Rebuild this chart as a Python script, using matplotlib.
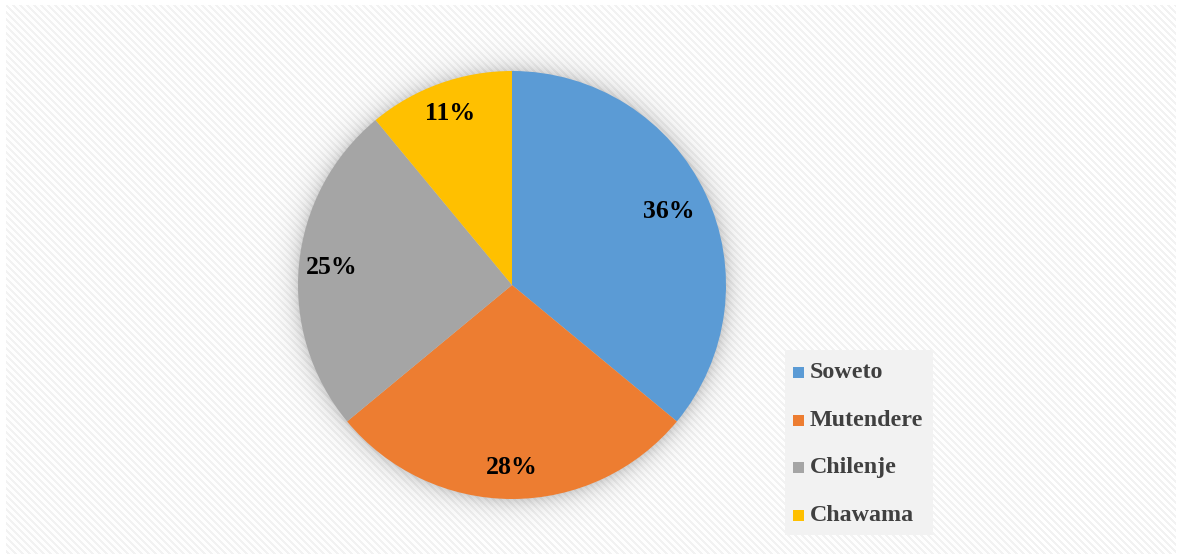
import numpy as np
import matplotlib
matplotlib.use("Agg")
import matplotlib.pyplot as plt
from matplotlib.patches import Rectangle

# Share of respondents by area
areas = ["Soweto", "Mutendere", "Chilenje", "Chawama"]
shares = [36, 28, 25, 11]
colors = ["#5b9bd5", "#ed7d31", "#a5a5a5", "#ffc000"]

W, H, DPI = 1181, 558, 100
fig = plt.figure(figsize=(W / DPI, H / DPI), dpi=DPI)
fig.patch.set_facecolor("white")

# Pie placement in pixels (centre and radius)
cx, cy, r = 512, 285, 214

# Diagonal-stripe chart background with a soft glow under the pie
yy, xx = np.mgrid[0:H, 0:W]
stripes = ((xx - yy) % 7) < 3
bg = np.where(stripes, 0.95, 1.0)
d = np.hypot(xx - cx, yy - cy)
glow = np.where(d > r, np.exp(-np.clip(d - r, 0, None) / 10.0), 1.0)
bg = bg * (1 - 0.17 * glow)
inside = (xx >= 6) & (xx <= W - 6) & (yy >= 5) & (yy <= H - 5)
bg = np.where(inside, bg, 1.0)
bg_ax = fig.add_axes([0, 0, 1, 1])
bg_ax.imshow(np.dstack([bg, bg, bg]), extent=(0, W, H, 0), interpolation="nearest")
bg_ax.set_xlim(0, W)
bg_ax.set_ylim(H, 0)
bg_ax.axis("off")

ax = fig.add_axes([(cx - r) / W, (H - cy - r) / H, 2 * r / W, 2 * r / H])
wedges, texts = ax.pie(
    shares, colors=colors, startangle=90, counterclock=False,
    radius=1.0, wedgeprops=dict(linewidth=0),
)
ax.set_xlim(-1, 1)
ax.set_ylim(-1, 1)
ax.set_aspect("equal")

label_r = [0.81, 0.855, 0.845, 0.85]
cum = 0
for v, lr in zip(shares, label_r):
    mid = 90 - (cum + v / 2) * 3.6
    cum += v
    ang = np.deg2rad(mid)
    ax.text(lr * np.cos(ang), lr * np.sin(ang), f"{v}%", ha="center", va="center",
            fontsize=18.5, fontweight="bold", family="Liberation Serif", color="black")

# Legend panel
bg_ax.add_patch(Rectangle((785, 350), 148, 185, facecolor="#f2f2f2", edgecolor="none", zorder=2))
for i, (name, c) in enumerate(zip(areas, colors)):
    y = 372 + i * 47.5
    bg_ax.add_patch(Rectangle((793, y - 5), 11, 11, facecolor=c, edgecolor="none", zorder=3))
    bg_ax.text(810, y + 1, name, ha="left", va="center", fontsize=17.3, fontweight="bold",
               family="Liberation Serif", color="#404040", zorder=3)

fig.savefig("out.png", dpi=DPI)
